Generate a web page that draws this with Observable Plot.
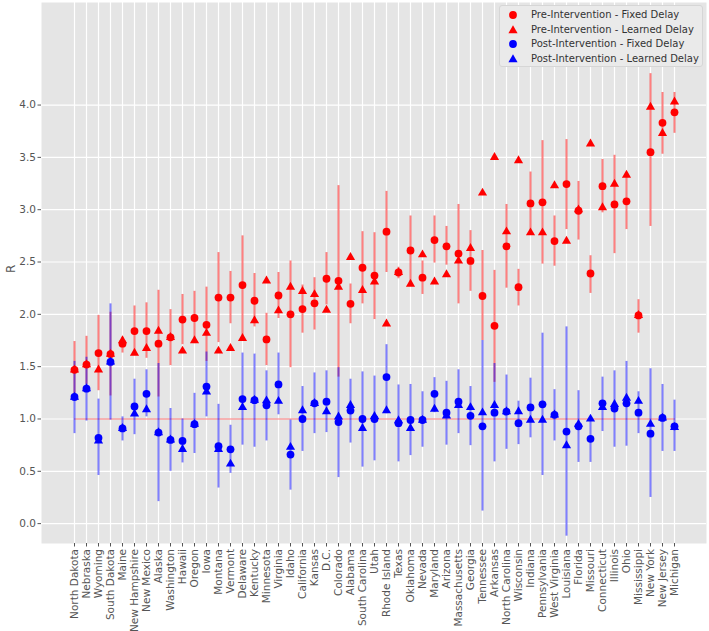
<!DOCTYPE html>
<html>
<head>
<meta charset="utf-8">
<script src="https://cdn.jsdelivr.net/npm/d3@7"></script>
<script src="https://cdn.jsdelivr.net/npm/@observablehq/plot@0.6"></script>
<style>
  html, body { margin: 0; padding: 0; background: white; }
  #wrap { position: relative; width: 709px; height: 631px; font-family: "DejaVu Sans", sans-serif; }
  #legend { position: absolute; left: 499px; top: 5px; width: 204px; height: 62px;
            background: #EAEAEA; border: 1px solid #D6D6D6; border-radius: 3px; box-sizing: border-box; }
  .row { position: absolute; left: 0; height: 14px; font-size: 10px; color: #333; white-space: nowrap; }
  .row svg { position: absolute; left: 8px; top: 2px; }
  .row span { position: absolute; left: 31px; top: 0px; line-height: 14px; }
</style>
</head>
<body>
<div id="wrap"></div>
<script>
const states = ["North Dakota","Nebraska","Wyoming","South Dakota","Maine","New Hampshire","New Mexico","Alaska","Washington","Hawaii","Oregon","Iowa","Montana","Vermont","Delaware","Kentucky","Minnesota","Virginia","Idaho","California","Kansas","D.C.","Colorado","Alabama","South Carolina","Utah","Rhode Island","Texas","Oklahoma","Nevada","Maryland","Arizona","Massachusetts","Georgia","Tennessee","Arkansas","North Carolina","Wisconsin","Indiana","Pennsylvania","West Virginia","Louisiana","Florida","Missouri","Connecticut","Illinois","Ohio","Mississippi","New York","New Jersey","Michigan"];

const preFixed = [1.47,1.52,1.63,1.62,1.72,1.84,1.84,1.72,1.78,1.95,1.965,1.90,2.16,2.16,2.28,2.13,1.76,2.18,2.00,2.05,2.105,2.34,2.32,2.10,2.445,2.37,2.79,2.40,2.61,2.35,2.71,2.65,2.58,2.51,2.175,1.89,2.65,2.26,3.06,3.07,2.70,3.245,2.99,2.39,3.225,3.05,3.08,1.99,3.55,3.83,3.93];
const preLo = [1.21,1.33,1.27,1.22,1.63,1.63,1.58,1.21,1.51,1.71,1.72,1.55,1.73,1.91,1.76,1.88,1.51,1.96,1.49,1.82,1.85,2.09,1.40,1.91,2.10,1.95,2.40,2.34,2.29,2.19,2.49,2.47,2.10,2.22,1.75,1.35,2.25,2.08,2.78,2.48,2.46,2.81,2.71,2.20,2.97,2.58,2.81,1.82,2.84,3.53,3.73];
const preHi = [1.74,1.79,1.99,2.02,1.78,2.08,2.11,2.23,2.045,2.19,2.22,2.26,2.59,2.41,2.75,2.39,2.01,2.40,2.51,2.28,2.35,2.59,3.23,2.29,2.79,2.78,3.175,2.45,2.94,2.51,2.94,2.84,3.05,2.80,2.61,2.42,3.05,2.43,3.36,3.66,2.94,3.67,3.27,2.56,3.48,3.52,3.32,2.14,4.30,4.12,4.12];
const preLearned = [1.47,1.52,1.47,1.62,1.75,1.63,1.675,1.84,1.78,1.65,1.75,1.82,1.65,1.675,1.77,1.94,2.32,2.035,2.26,2.22,2.19,2.04,2.26,2.545,2.23,2.31,1.91,2.40,2.29,2.57,2.31,2.38,2.51,2.63,3.16,3.50,2.79,3.47,2.78,2.78,3.23,2.70,3.00,3.63,3.02,3.245,3.33,1.99,3.98,3.73,4.03];

const postFixed = [1.21,1.29,0.82,1.545,0.91,1.12,1.24,0.87,0.80,0.79,0.95,1.31,0.74,0.71,1.19,1.18,1.13,1.33,0.66,1.00,1.15,1.165,0.97,1.08,1.00,1.00,1.40,0.96,0.99,0.99,1.24,1.06,1.165,1.03,0.93,1.06,1.07,0.96,1.11,1.14,1.04,0.88,0.93,0.81,1.15,1.10,1.15,1.06,0.86,1.01,0.93];
const postLo = [0.86,0.98,0.46,0.99,0.79,0.85,1.02,0.21,0.50,0.58,0.67,1.02,0.34,0.48,0.75,0.73,0.79,1.04,0.32,0.69,0.86,0.87,0.44,0.77,0.54,0.60,1.05,0.59,0.65,0.73,1.06,0.75,0.86,0.745,0.12,0.59,0.71,0.755,0.82,0.46,0.79,-0.12,0.585,0.585,0.88,0.73,0.74,0.86,0.25,0.69,0.69];
const postHi = [1.55,1.59,1.19,2.10,1.02,1.38,1.47,1.53,1.10,1.00,1.245,1.64,1.14,0.94,1.63,1.62,1.46,1.63,0.99,1.31,1.44,1.46,1.49,1.38,1.45,1.41,1.71,1.325,1.33,1.26,1.395,1.36,1.47,1.31,1.75,1.53,1.42,1.17,1.39,1.82,1.28,1.88,1.27,1.00,1.40,1.46,1.55,1.26,1.48,1.33,1.18];
const postLearned = [1.21,1.29,0.79,1.545,0.91,1.05,1.09,0.87,0.80,0.71,0.95,1.26,0.71,0.57,1.11,1.18,1.175,1.17,0.73,1.08,1.15,1.07,1.02,1.13,0.91,1.025,1.08,0.985,0.91,0.99,1.095,1.03,1.13,1.11,1.06,1.13,1.07,1.07,0.99,0.99,1.04,0.745,0.95,1.00,1.11,1.14,1.20,1.17,0.95,1.01,0.92];

const yTicks = [0, 0.5, 1.0, 1.5, 2.0, 2.5, 3.0, 3.5, 4.0];
const yLabel = ["R"];
const baseline = [1.0];
const legendLabels = ["Pre-Intervention - Fixed Delay","Pre-Intervention - Learned Delay","Post-Intervention - Fixed Delay","Post-Intervention - Learned Delay"];

const rows = states.map((s, i) => ({
  state: s,
  preFixed: preFixed[i], preLo: preLo[i], preHi: preHi[i], preLearned: preLearned[i],
  postFixed: postFixed[i], postLo: postLo[i], postHi: postHi[i], postLearned: postLearned[i]
}));

const RED = "#ff0000", BLUE = "#0000ff";

const chart = Plot.plot({
  width: 709,
  height: 631,
  marginLeft: 41,
  marginRight: 3,
  marginTop: 2,
  marginBottom: 88,
  style: { fontFamily: "DejaVu Sans, sans-serif", fontSize: "10.5px", background: "white" },
  x: { type: "point", domain: states, padding: 2.43 },
  y: { domain: [-0.19, 4.98] },
  marks: [
    Plot.frame({ fill: "#E5E5E5", stroke: null }),
    Plot.gridY(yTicks, { stroke: "white", strokeOpacity: 1, strokeWidth: 1.2 }),
    Plot.gridX({ stroke: "white", strokeOpacity: 1, strokeWidth: 1.2 }),
    Plot.axisY(yTicks, { tickFormat: d3.format(".1f"), tickSize: 3.5, tickPadding: 2, color: "#555", label: null }),
    Plot.axisX({ tickRotate: -90, tickSize: 3.5, tickPadding: 2, color: "#555", label: null }),
    Plot.text(yLabel, { text: d => d, frameAnchor: "left", dx: -30, rotate: -90, fill: "#555", fontSize: 12 }),
    Plot.lineY(states, { x: d => d, y: () => baseline[0], stroke: RED, strokeOpacity: 0.35, strokeWidth: 1.5 }),
    Plot.ruleX(rows, { x: "state", y1: "preLo", y2: "preHi", stroke: RED, strokeOpacity: 0.5, strokeWidth: 2 }),
    Plot.ruleX(rows, { x: "state", y1: "postLo", y2: "postHi", stroke: BLUE, strokeOpacity: 0.5, strokeWidth: 2 }),
    Plot.dot(rows, { x: "state", y: "preLearned", symbol: "triangle", r: 3.4, fill: RED }),
    Plot.dot(rows, { x: "state", y: "preFixed", symbol: "circle", r: 3.9, fill: RED }),
    Plot.dot(rows, { x: "state", y: "postLearned", symbol: "triangle", r: 3.4, fill: BLUE }),
    Plot.dot(rows, { x: "state", y: "postFixed", symbol: "circle", r: 3.9, fill: BLUE })
  ]
});

const wrap = document.getElementById("wrap");
wrap.appendChild(chart);

// Legend
const legend = document.createElement("div");
legend.id = "legend";
const colors = [RED, RED, BLUE, BLUE];
const shapes = ["circle", "triangle", "circle", "triangle"];
legendLabels.forEach((lab, i) => {
  const row = document.createElement("div");
  row.className = "row";
  row.style.top = (2 + i * 14.5) + "px";
  const sym = shapes[i] === "circle"
    ? `<circle cx="5" cy="5" r="3.9" fill="${colors[i]}"/>`
    : `<path d="${d3.symbol(d3.symbolTriangle, Math.PI * 3.4 * 3.4)()}" transform="translate(5,5.6)" fill="${colors[i]}"/>`;
  row.innerHTML = `<svg width="10" height="10">${sym}</svg><span>${lab}</span>`;
  legend.appendChild(row);
});
wrap.appendChild(legend);
</script>
</body>
</html>
